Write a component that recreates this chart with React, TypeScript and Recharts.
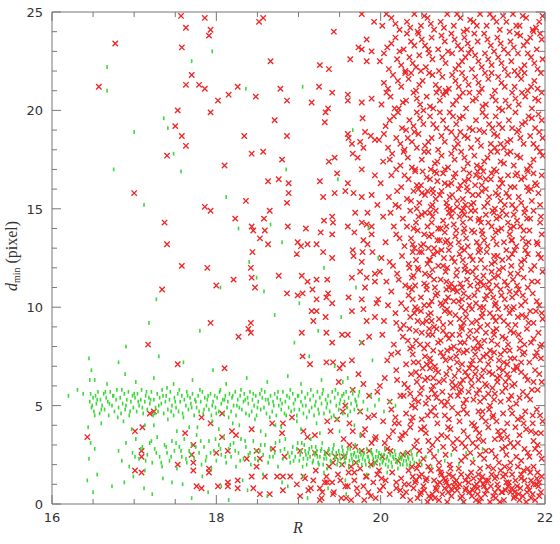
import { Label, Scatter, ScatterChart, XAxis, YAxis } from "recharts";

// values stored as [R*100, dmin*10] pairs
const redSparse = [
  1643, 34, 1657, 212, 1677, 234, 1700, 158, 1757, 248, 1763, 242, 1758, 232, 1770, 218, 1763, 213, 1779, 213,
  1753, 200, 1750, 192, 1758, 187, 1763, 182, 1740, 177, 1786, 247, 1793, 241, 1791, 238, 1852, 245, 1857, 247,
  1866, 225, 1977, 249, 1992, 245, 1943, 240, 1983, 236, 1973, 232, 1977, 231, 1989, 230, 1983, 225, 1963, 226,
  1926, 223, 1937, 221, 1786, 211, 1826, 212, 1815, 208, 1802, 205, 1793, 199, 1848, 207, 1878, 211, 1886, 205,
  1925, 212, 1941, 209, 1916, 204, 1936, 201, 1933, 199, 1960, 208, 1960, 205, 1977, 204, 1989, 206, 1978, 196,
  1932, 194, 1871, 195, 1834, 187, 1886, 187, 1843, 178, 1857, 179, 1880, 175, 1810, 172, 1863, 164, 1876, 165,
  1888, 163, 1926, 164, 1960, 163, 1947, 168, 1937, 174, 1944, 176, 1966, 178, 1972, 176, 1977, 170, 1993, 167,
  1960, 188, 1961, 186, 1965, 183, 1975, 184, 1981, 189, 1988, 187, 1993, 185, 1979, 181,
  1786, 151, 1793, 149, 1836, 154, 1823, 145, 1843, 141, 1845, 139, 1858, 145, 1865, 149, 1859, 139, 1853, 135,
  1863, 132, 1844, 128, 1886, 153, 1888, 158, 1887, 141, 1842, 120, 1843, 115, 1821, 114, 1847, 110, 1876, 116,
  1886, 107, 1793, 92, 1842, 92, 1839, 89, 1842, 87, 1827, 85, 1810, 69, 1904, 87, 1909, 140, 1899, 133,
  1903, 131, 1911, 132, 1922, 132, 1930, 128, 1931, 144, 1927, 138, 1941, 146, 1942, 143, 1941, 137, 1941, 125,
  1898, 127, 1904, 116, 1911, 113, 1922, 114, 1935, 114, 1917, 109, 1899, 106, 1905, 107, 1922, 104, 1934, 105,
  1936, 107, 1941, 102, 1916, 98, 1922, 98, 1918, 93, 1933, 95, 1934, 87, 1941, 82, 1905, 75, 1914, 71,
  1934, 72, 1942, 72, 1950, 69, 1954, 71, 1965, 73, 1953, 86, 1960, 86, 1977, 82, 1986, 85, 1965, 98,
  1979, 99, 1993, 95, 1983, 93, 1961, 105, 1977, 104, 1995, 102, 1960, 141, 1968, 138, 1966, 129, 1967, 126,
  1978, 128, 1977, 123, 1975, 118, 1965, 115, 1983, 115, 1981, 110, 1993, 113, 1944, 158, 1957, 159, 1967, 158,
  1977, 156, 1989, 157, 1930, 156, 1969, 148, 1984, 148, 1977, 143, 1983, 142, 1989, 141, 1989, 137, 1979, 134,
  1984, 132, 1990, 128, 1993, 117, 1737, 143, 1740, 132, 1758, 121, 1734, 109, 1789, 120, 1800, 111, 1717, 81,
  1753, 71, 1701, 37, 1710, 39, 1762, 36, 1719, 46, 1724, 47, 1782, 44, 1793, 41, 1772, 30, 1709, 27,
  1709, 24, 1770, 25, 1800, 26, 1807, 34, 1753, 20, 1772, 21, 1701, 17, 1709, 16, 1772, 17, 1791, 18,
  1791, 16, 1776, 9, 1782, 8, 1802, 9, 1814, 11, 1814, 27, 1807, 46, 1868, 41, 1881, 41, 1892, 44,
  1935, 42, 1954, 47, 1819, 37, 1824, 35, 1843, 38, 1880, 36, 1906, 37, 1911, 34, 1920, 35, 1966, 37,
  1849, 27, 1837, 23, 1853, 23, 1869, 28, 1883, 24, 1902, 27, 1920, 26, 1934, 26, 1942, 21, 1849, 19,
  1826, 12, 1843, 14, 1859, 14, 1874, 14, 1881, 14, 1890, 14, 1906, 14, 1918, 12, 1935, 11, 1941, 11,
  1814, 9, 1826, 8, 1845, 8, 1853, 5, 1865, 5, 1881, 7, 1898, 10, 1912, 7, 1929, 6, 1928, 3,
  1942, 5, 1951, 12, 1958, 3, 1964, 19, 1971, 8, 1977, 27, 1983, 14, 1988, 4, 1945, 24, 1955, 33,
  1962, 41, 1969, 29, 1975, 47, 1981, 38, 1986, 55, 1949, 62, 1957, 50, 1966, 58, 1973, 66, 1979, 61,
  1985, 44, 1939, 37, 1947, 43, 1960, 9, 1968, 16, 1980, 2, 1989, 31, 1953, 20, 1934, 14, 1926, 8,
  1902, 4, 1908, 13, 1915, 8, 1921, 17, 1926, 2, 1932, 11, 1937, 19, 1943, 6, 1948, 15, 1952, 3,
  1957, 9, 1961, 16, 1964, 2, 1968, 12, 1972, 5, 1975, 18, 1979, 9, 1982, 14, 1985, 6, 1988, 20,
  1991, 11, 1994, 3, 1996, 15, 1999, 7, 1955, 24, 1970, 21, 1986, 27, 1993, 33, 1978, 35, 1962, 30,
];

const redDense = [
  2031, 6, 2045, 3, 2052, 9, 2063, 5, 2071, 2, 2078, 8, 2086, 4, 2093, 7, 2101, 1, 2108, 6, 2114, 9, 2122, 3,
  2129, 7, 2137, 4, 2143, 8, 2150, 2, 2158, 6, 2166, 9, 2173, 4, 2181, 7, 2188, 2, 2195, 6, 2040, 8, 2057, 1,
  2068, 7, 2083, 9, 2097, 3, 2111, 4, 2126, 9, 2133, 1, 2147, 6, 2155, 9, 2162, 3, 2170, 8, 2177, 1, 2185, 5,
  2192, 9, 2027, 4, 2019, 8, 2049, 6, 2075, 5, 2089, 9, 2104, 8, 2118, 5, 2140, 3, 2152, 7, 2168, 5, 2183, 3,
  2066, 3, 2094, 9, 2120, 1, 2145, 1, 2163, 6, 2179, 9, 2011, 5, 2003, 9, 2036, 2, 2059, 4, 2081, 1, 2116, 2,
  2025, 13, 2034, 17, 2042, 11, 2050, 15, 2058, 19, 2065, 12, 2073, 16, 2080, 11, 2088, 14, 2095, 18, 2103, 12,
  2110, 16, 2117, 10, 2124, 14, 2131, 19, 2139, 13, 2146, 17, 2153, 11, 2160, 15, 2167, 19, 2175, 12, 2182, 16,
  2189, 10, 2196, 14, 2014, 16, 2006, 12, 2038, 19, 2047, 14, 2061, 17, 2069, 10, 2077, 13, 2085, 18, 2098, 15,
  2107, 11, 2121, 18, 2128, 12, 2135, 15, 2149, 14, 2157, 18, 2171, 15, 2186, 19, 2193, 11, 2029, 10, 2055, 12,
  2083, 15, 2113, 13, 2142, 10, 2164, 12, 2179, 18, 1998, 17, 2019, 11, 2044, 18, 2071, 18, 2092, 12, 2119, 15,
  2137, 18, 2151, 19, 2174, 17, 2191, 16, 2001, 13,
  2002, 24, 2012, 27, 2021, 22, 2033, 26, 2041, 29, 2052, 23, 2060, 27, 2071, 21, 2079, 25, 2090, 28, 2098, 22,
  2109, 26, 2117, 29, 2126, 23, 2135, 27, 2144, 21, 2153, 25, 2162, 29, 2171, 22, 2179, 26, 2188, 28, 2196, 23,
  2046, 20, 2065, 24, 2084, 20, 2103, 29, 2121, 25, 2140, 24, 2158, 21, 2175, 28, 2193, 26, 1993, 21, 2027, 25,
  2112, 21, 2148, 28,
  1994, 34, 2005, 31, 2015, 37, 2024, 33, 2036, 39, 2044, 32, 2055, 36, 2063, 30, 2074, 35, 2082, 39, 2093, 33,
  2101, 37, 2112, 31, 2120, 36, 2131, 39, 2139, 33, 2150, 37, 2158, 31, 2169, 35, 2177, 38, 2186, 32, 2195, 36,
  2010, 34, 2049, 38, 2088, 31, 2106, 34, 2125, 32, 2145, 35, 2164, 39, 2183, 37, 2030, 36, 2069, 33, 2116, 38,
  2154, 34, 2191, 30,
  1992, 45, 2003, 42, 2013, 48, 2022, 41, 2031, 46, 2042, 49, 2050, 43, 2061, 47, 2069, 41, 2078, 45, 2087, 49,
  2096, 42, 2105, 46, 2114, 40, 2123, 44, 2132, 48, 2141, 42, 2149, 46, 2158, 49, 2167, 43, 2176, 47, 2185, 41,
  2194, 45, 2018, 44, 2037, 42, 2057, 45, 2083, 43, 2101, 48, 2119, 47, 2137, 45, 2154, 41, 2172, 44, 2190, 48,
  2065, 49, 2128, 42,
  1996, 57, 2011, 52, 2024, 55, 2033, 59, 2041, 53, 2048, 56, 2055, 51, 2062, 58, 2068, 54, 2075, 57, 2081, 52,
  2088, 59, 2094, 55, 2101, 51, 2107, 57, 2113, 53, 2120, 58, 2126, 54, 2133, 50, 2139, 56, 2146, 52, 2152, 59,
  2159, 55, 2165, 51, 2173, 57, 2182, 53, 2191, 58, 2038, 50, 2058, 54, 2078, 50, 2098, 58, 2117, 56, 2136, 59,
  2156, 53, 2178, 55,
  2005, 64, 2019, 68, 2029, 61, 2037, 66, 2044, 62, 2051, 69, 2057, 64, 2064, 60, 2070, 67, 2077, 63, 2084, 69,
  2090, 65, 2097, 61, 2103, 67, 2110, 63, 2116, 69, 2123, 65, 2129, 60, 2136, 66, 2142, 62, 2149, 68, 2156, 64,
  2163, 61, 2171, 67, 2179, 63, 2188, 68, 2196, 62, 2047, 65, 2067, 68, 2087, 62, 2106, 65, 2125, 68, 2145, 65,
  2166, 69, 1999, 60,
  2008, 73, 2021, 77, 2031, 71, 2039, 76, 2046, 72, 2053, 79, 2060, 74, 2066, 70, 2073, 77, 2079, 73, 2086, 79,
  2092, 75, 2099, 71, 2105, 78, 2112, 73, 2118, 79, 2125, 75, 2131, 71, 2138, 77, 2144, 73, 2151, 78, 2158, 74,
  2165, 70, 2173, 76, 2181, 72, 2190, 77, 2036, 79, 2056, 71, 2076, 75, 2095, 78, 2115, 76, 2134, 74, 2154, 71,
  2169, 79, 2195, 74,
  2002, 86, 2016, 81, 2027, 85, 2035, 89, 2043, 83, 2050, 87, 2057, 81, 2063, 86, 2070, 82, 2076, 88, 2083, 84,
  2089, 80, 2096, 86, 2102, 82, 2109, 88, 2115, 84, 2122, 80, 2128, 87, 2135, 83, 2141, 89, 2148, 85, 2155, 81,
  2162, 87, 2170, 83, 2178, 89, 2186, 84, 2194, 80, 2039, 80, 2059, 89, 2080, 86, 2099, 89, 2119, 82, 2138, 86,
  2158, 88, 2175, 81,
  2004, 93, 2018, 97, 2028, 91, 2036, 95, 2044, 99, 2051, 92, 2058, 96, 2065, 90, 2071, 94, 2078, 98, 2085, 92,
  2091, 96, 2098, 90, 2104, 95, 2111, 99, 2117, 93, 2124, 97, 2130, 91, 2137, 95, 2143, 99, 2150, 93, 2157, 97,
  2164, 91, 2172, 96, 2180, 92, 2189, 98, 2197, 94, 2041, 97, 2062, 93, 2081, 99, 2101, 92, 2121, 90, 2140, 93,
  2160, 99, 2177, 95,
  1997, 104, 2013, 108, 2025, 102, 2034, 106, 2042, 100, 2049, 105, 2056, 109, 2062, 103, 2069, 107, 2075, 101,
  2082, 105, 2088, 109, 2095, 103, 2101, 107, 2108, 101, 2114, 106, 2121, 100, 2127, 104, 2134, 108, 2140, 102,
  2147, 106, 2153, 100, 2160, 105, 2168, 109, 2176, 103, 2185, 107, 2193, 101, 2038, 109, 2059, 101, 2079, 103,
  2098, 100, 2118, 109, 2137, 105, 2157, 108, 2171, 101,
  2007, 113, 2020, 117, 2030, 111, 2038, 115, 2046, 119, 2053, 112, 2060, 116, 2066, 110, 2073, 114, 2079, 118,
  2086, 112, 2092, 116, 2099, 110, 2105, 114, 2112, 118, 2118, 112, 2125, 116, 2131, 110, 2138, 115, 2144, 119,
  2151, 113, 2158, 117, 2166, 111, 2174, 115, 2183, 119, 2191, 113, 2042, 111, 2063, 119, 2083, 110, 2102, 119,
  2122, 113, 2141, 111, 2161, 114, 2179, 110, 1999, 118,
  2001, 125, 2015, 121, 2026, 126, 2035, 120, 2043, 124, 2050, 128, 2057, 122, 2064, 127, 2070, 121, 2077, 125,
  2083, 129, 2090, 123, 2096, 127, 2103, 121, 2109, 126, 2116, 120, 2122, 124, 2129, 128, 2135, 122, 2142, 126,
  2149, 120, 2156, 125, 2163, 129, 2171, 123, 2179, 127, 2187, 121, 2195, 125, 2039, 128, 2060, 124, 2081, 120,
  2100, 124, 2119, 128, 2139, 123, 2159, 121, 2176, 129,
  2006, 133, 2019, 137, 2029, 131, 2037, 135, 2045, 139, 2052, 132, 2059, 136, 2065, 130, 2072, 134, 2078, 138,
  2085, 132, 2091, 136, 2098, 130, 2104, 135, 2111, 139, 2117, 133, 2124, 137, 2130, 131, 2137, 135, 2143, 139,
  2150, 133, 2157, 137, 2165, 131, 2173, 135, 2181, 139, 2190, 133, 2041, 130, 2062, 137, 2081, 134, 2101, 138,
  2120, 131, 2140, 138, 2160, 134, 2177, 132, 2196, 137,
  2003, 146, 2016, 141, 2027, 145, 2036, 149, 2043, 143, 2050, 147, 2057, 141, 2063, 146, 2070, 140, 2076, 144,
  2083, 148, 2089, 142, 2096, 146, 2102, 140, 2109, 145, 2115, 149, 2122, 143, 2128, 147, 2135, 141, 2141, 145,
  2148, 149, 2155, 143, 2162, 147, 2170, 141, 2178, 145, 2186, 149, 2194, 143, 2040, 140, 2060, 148, 2080, 141,
  2099, 149, 2119, 144, 2138, 148, 2158, 140, 2175, 148,
  1996, 152, 2010, 156, 2022, 151, 2032, 155, 2040, 159, 2047, 153, 2054, 157, 2061, 151, 2067, 155, 2074, 159,
  2080, 153, 2087, 157, 2093, 151, 2100, 155, 2106, 159, 2113, 153, 2119, 157, 2126, 151, 2132, 156, 2139, 150,
  2146, 154, 2153, 158, 2160, 152, 2168, 156, 2176, 150, 2184, 154, 2192, 158, 2044, 150, 2064, 158, 2084, 150,
  2103, 152, 2123, 159, 2143, 157, 2164, 150, 2180, 159,
  2000, 163, 2013, 167, 2025, 161, 2034, 165, 2042, 169, 2049, 162, 2056, 166, 2063, 160, 2069, 164, 2076, 168,
  2082, 162, 2089, 166, 2095, 160, 2102, 164, 2108, 168, 2115, 162, 2121, 166, 2128, 160, 2134, 165, 2141, 169,
  2148, 163, 2155, 167, 2163, 161, 2171, 165, 2179, 169, 2188, 163, 2196, 167, 2046, 160, 2066, 169, 2086, 163,
  2105, 161, 2125, 169, 2144, 161, 2166, 168, 2183, 160,
  2003, 174, 2014, 178, 2024, 172, 2033, 176, 2042, 170, 2050, 175, 2058, 179, 2066, 173, 2074, 177, 2082, 171,
  2090, 175, 2098, 179, 2106, 173, 2114, 177, 2122, 171, 2130, 176, 2138, 170, 2146, 174, 2154, 178, 2162, 172,
  2170, 176, 2178, 170, 2186, 175, 2194, 179, 2028, 179, 2061, 170, 2101, 170, 2142, 179,
  1998, 185, 2009, 181, 2019, 186, 2029, 180, 2038, 184, 2046, 188, 2054, 182, 2062, 186, 2070, 180, 2078, 184,
  2086, 189, 2094, 183, 2102, 187, 2110, 181, 2118, 185, 2126, 189, 2134, 183, 2142, 187, 2150, 181, 2158, 185,
  2166, 189, 2174, 183, 2182, 187, 2190, 181, 2197, 186, 2044, 181, 2092, 186, 2139, 181,
  2006, 192, 2016, 197, 2026, 191, 2035, 195, 2044, 199, 2052, 193, 2060, 197, 2068, 191, 2076, 195, 2084, 199,
  2092, 193, 2100, 197, 2108, 191, 2116, 195, 2124, 199, 2132, 193, 2140, 197, 2148, 191, 2156, 195, 2164, 199,
  2172, 193, 2180, 197, 2188, 191, 2196, 195, 2021, 199, 2072, 199, 2120, 190, 2168, 190,
  2001, 203, 2012, 207, 2022, 201, 2031, 205, 2040, 209, 2048, 203, 2056, 207, 2064, 201, 2072, 205, 2080, 209,
  2088, 203, 2096, 207, 2104, 201, 2112, 205, 2120, 209, 2128, 203, 2136, 207, 2144, 201, 2152, 205, 2160, 209,
  2168, 203, 2176, 207, 2184, 201, 2192, 205, 2052, 200, 2100, 209, 2148, 200, 2196, 209,
  2004, 214, 2015, 218, 2025, 212, 2034, 216, 2043, 210, 2051, 215, 2059, 219, 2067, 213, 2075, 217, 2083, 211,
  2091, 215, 2099, 219, 2107, 213, 2115, 217, 2123, 211, 2131, 216, 2139, 210, 2147, 214, 2155, 218, 2163, 212,
  2171, 216, 2179, 210, 2187, 215, 2195, 219, 2037, 219, 2079, 210, 2127, 219, 2175, 219,
  1999, 225, 2010, 221, 2020, 226, 2030, 220, 2039, 224, 2047, 228, 2055, 222, 2063, 226, 2071, 220, 2079, 224,
  2087, 229, 2095, 223, 2103, 227, 2111, 221, 2119, 225, 2127, 229, 2135, 223, 2143, 227, 2151, 221, 2159, 225,
  2167, 229, 2175, 223, 2183, 227, 2191, 221, 2197, 226, 2049, 220, 2107, 229, 2163, 220,
  2008, 232, 2018, 237, 2028, 231, 2037, 235, 2046, 239, 2054, 233, 2062, 237, 2070, 231, 2078, 235, 2086, 239,
  2094, 233, 2102, 237, 2110, 231, 2118, 235, 2126, 239, 2134, 233, 2142, 237, 2150, 231, 2158, 235, 2166, 239,
  2174, 233, 2182, 237, 2190, 231, 2196, 236, 2023, 230, 2082, 230, 2138, 230, 2186, 240,
  2002, 243, 2013, 247, 2023, 241, 2032, 245, 2041, 249, 2049, 243, 2057, 247, 2065, 241, 2073, 245, 2081, 249,
  2089, 243, 2097, 247, 2105, 241, 2113, 245, 2121, 249, 2129, 243, 2137, 247, 2145, 241, 2153, 245, 2161, 249,
  2169, 243, 2177, 247, 2185, 241, 2193, 245, 2045, 240, 2101, 240, 2157, 240,
];

const redDenseExtra = [
  2034, 10, 2048, 5, 2056, 13, 2067, 8, 2074, 15, 2082, 6, 2090, 11, 2099, 4, 2106, 14, 2112, 7, 2121, 12,
  2127, 5, 2134, 9, 2141, 14, 2148, 6, 2156, 11, 2163, 4, 2171, 13, 2178, 6, 2186, 10, 2193, 4, 2039, 14,
  2061, 3, 2079, 12, 2096, 10, 2118, 8, 2139, 6, 2152, 15, 2169, 2, 2190, 13, 2024, 7, 2043, 12, 2072, 11,
  2103, 7, 2131, 12, 2160, 8, 2183, 12, 2053, 7, 2087, 7, 2125, 10,
  2008, 28, 2026, 35, 2039, 44, 2047, 27, 2058, 32, 2067, 45, 2076, 29, 2085, 38, 2094, 46, 2103, 24, 2111, 41,
  2119, 33, 2128, 27, 2136, 44, 2143, 37, 2152, 29, 2160, 46, 2167, 31, 2174, 41, 2181, 24, 2189, 36, 2197, 42,
  2017, 41, 2053, 39, 2081, 34, 2099, 31, 2124, 47, 2147, 33, 2165, 24, 2185, 45,
  2036, 56, 2043, 67, 2050, 59, 2054, 63, 2060, 69, 2066, 56, 2071, 62, 2080, 66, 2085, 55, 2091, 60, 2095, 68,
  2100, 63, 2104, 53, 2111, 60, 2115, 66, 2121, 52, 2127, 61, 2132, 67, 2138, 53, 2142, 64, 2148, 57, 2154, 66,
  2160, 60, 2169, 54, 2176, 65, 2184, 58, 2193, 66, 2046, 52, 2074, 52, 2108, 69, 2131, 56, 2152, 62, 2020, 63,
  2064, 64, 2096, 57, 2119, 63, 2144, 69, 2162, 68, 2186, 62, 2028, 55,
  2033, 83, 2040, 72, 2048, 81, 2054, 75, 2058, 86, 2064, 78, 2068, 89, 2073, 83, 2081, 78, 2087, 86, 2093, 72,
  2097, 82, 2101, 77, 2107, 85, 2113, 79, 2117, 88, 2121, 73, 2126, 83, 2133, 78, 2137, 88, 2142, 81, 2146, 76,
  2152, 84, 2157, 78, 2163, 74, 2168, 86, 2175, 77, 2183, 82, 2192, 87, 2024, 89, 2043, 88, 2061, 72, 2085, 74,
  2110, 71, 2129, 76, 2150, 72, 2171, 72, 2188, 75, 2013, 76, 2196, 81,
  2031, 99, 2039, 104, 2045, 93, 2053, 101, 2061, 97, 2067, 106, 2073, 102, 2076, 91, 2084, 97, 2089, 103,
  2093, 108, 2096, 94, 2103, 98, 2107, 105, 2111, 92, 2116, 102, 2123, 95, 2129, 106, 2133, 97, 2139, 101,
  2145, 95, 2151, 104, 2155, 91, 2162, 100, 2167, 95, 2173, 106, 2182, 98, 2190, 103, 2196, 97, 2019, 92,
  2035, 110, 2056, 93, 2080, 109, 2099, 104, 2125, 100, 2146, 109, 2165, 107, 2009, 101, 2049, 98, 2186, 92,
  2034, 122, 2040, 116, 2047, 128, 2054, 117, 2059, 124, 2065, 114, 2069, 128, 2076, 121, 2080, 113, 2087, 125,
  2093, 119, 2097, 112, 2102, 129, 2106, 118, 2112, 124, 2116, 115, 2121, 129, 2127, 120, 2132, 113, 2138, 126,
  2143, 116, 2148, 124, 2154, 111, 2160, 127, 2167, 117, 2175, 124, 2184, 113, 2192, 127, 2022, 114, 2056, 111,
  2074, 129, 2090, 110, 2109, 111, 2135, 118, 2153, 129, 2171, 120, 2011, 123, 2045, 120, 2197, 118, 2125, 111,
  2032, 141, 2039, 132, 2046, 146, 2053, 137, 2058, 130, 2062, 143, 2067, 149, 2073, 140, 2079, 133, 2086, 146,
  2092, 139, 2095, 133, 2100, 143, 2106, 131, 2110, 149, 2114, 138, 2120, 145, 2126, 134, 2131, 143, 2136, 149,
  2141, 132, 2147, 140, 2153, 147, 2159, 134, 2166, 144, 2174, 139, 2182, 145, 2191, 132, 2023, 135, 2049, 131,
  2069, 134, 2088, 149, 2102, 147, 2123, 139, 2145, 146, 2162, 141, 2180, 133, 2012, 148, 2054, 148, 2195, 146,
  2029, 167, 2037, 154, 2044, 162, 2051, 169, 2057, 159, 2063, 152, 2068, 168, 2072, 157, 2078, 163, 2084, 156,
  2091, 168, 2097, 162, 2101, 150, 2107, 165, 2112, 157, 2118, 169, 2123, 162, 2130, 153, 2135, 168, 2140, 158,
  2146, 165, 2151, 152, 2158, 161, 2164, 167, 2171, 153, 2178, 161, 2186, 168, 2194, 152, 2018, 152, 2060, 165,
  2081, 151, 2110, 152, 2128, 165, 2156, 156, 2175, 166, 2190, 162, 2050, 158, 2093, 154, 2116, 167, 2020, 159,
  2011, 175, 2038, 171, 2053, 179, 2069, 174, 2086, 178, 2102, 176, 2117, 172, 2134, 179, 2150, 173, 2166, 177,
  2182, 172, 2197, 177, 2019, 170, 2078, 170, 2126, 174, 2158, 179,
  2004, 188, 2024, 183, 2041, 189, 2058, 184, 2074, 187, 2090, 181, 2106, 186, 2122, 182, 2138, 188, 2154, 184,
  2170, 186, 2186, 183, 2033, 186, 2097, 189, 2146, 183, 2193, 189,
  2011, 195, 2031, 190, 2048, 196, 2064, 193, 2080, 191, 2096, 196, 2112, 190, 2128, 197, 2144, 193, 2160, 191,
  2176, 194, 2192, 198, 2040, 192, 2088, 197, 2136, 191, 2184, 196,
  2007, 209, 2027, 204, 2044, 206, 2060, 202, 2076, 208, 2092, 205, 2108, 209, 2124, 202, 2140, 205, 2156, 202,
  2172, 209, 2188, 206, 2017, 201, 2068, 209, 2116, 206, 2164, 206,
  2009, 211, 2030, 219, 2047, 213, 2063, 218, 2071, 211, 2087, 218, 2103, 216, 2119, 214, 2135, 219, 2151, 212,
  2167, 218, 2183, 212, 2021, 215, 2095, 212, 2143, 217, 2191, 211,
  2004, 229, 2025, 223, 2043, 222, 2059, 229, 2075, 227, 2091, 221, 2099, 225, 2115, 228, 2131, 226, 2147, 224,
  2155, 229, 2171, 221, 2187, 224, 2035, 227, 2123, 222, 2179, 229,
  2013, 234, 2032, 239, 2041, 233, 2058, 231, 2074, 238, 2090, 236, 2106, 234, 2114, 239, 2130, 236, 2146, 234,
  2162, 232, 2178, 235, 2194, 239, 2050, 236, 2098, 231, 2170, 238,
  2007, 249, 2018, 244, 2036, 242, 2053, 248, 2061, 244, 2077, 242, 2093, 249, 2109, 246, 2117, 243, 2133, 249,
  2141, 245, 2149, 248, 2165, 243, 2173, 248, 2189, 242, 2197, 248,
];

const greenUpper = [
  1646, 52, 1647, 56, 1648, 49, 1650, 54, 1651, 47, 1653, 55, 1654, 51, 1656, 57, 1658, 46, 1659, 53, 1661, 50,
  1663, 56, 1664, 48, 1666, 54, 1668, 52, 1669, 45, 1671, 57, 1673, 50, 1674, 55, 1676, 47, 1678, 53, 1679, 58,
  1681, 49, 1683, 54, 1684, 46, 1686, 51, 1688, 56, 1689, 48, 1691, 53, 1693, 57, 1694, 45, 1696, 52, 1698, 55,
  1699, 49, 1701, 54, 1703, 47, 1704, 56, 1706, 50, 1708, 53, 1709, 58, 1711, 46, 1713, 52, 1714, 55, 1716, 48,
  1718, 54, 1719, 51, 1721, 57, 1723, 45, 1724, 53, 1726, 49, 1728, 56, 1729, 47, 1731, 54, 1733, 51, 1734, 58,
  1736, 46, 1738, 52, 1739, 55, 1741, 48, 1743, 53, 1744, 57, 1746, 50, 1748, 45, 1749, 54, 1751, 49, 1753, 56,
  1754, 47, 1756, 52, 1758, 55, 1759, 46, 1761, 53, 1763, 50, 1764, 57, 1766, 48, 1768, 54, 1769, 51, 1771, 56,
  1773, 45, 1774, 53, 1776, 49, 1778, 55, 1779, 47, 1781, 52, 1783, 57, 1784, 46, 1786, 54, 1788, 50, 1789, 53,
  1791, 48, 1793, 56, 1794, 45, 1796, 52, 1798, 55, 1799, 49, 1801, 54, 1803, 47, 1804, 57, 1806, 51, 1808, 53,
  1809, 46, 1811, 55, 1813, 49, 1814, 52, 1816, 56, 1818, 47, 1819, 54, 1821, 50, 1823, 57, 1824, 45, 1826, 53,
  1828, 49, 1829, 55, 1831, 48, 1833, 52, 1834, 56, 1836, 46, 1838, 54, 1839, 51, 1841, 57, 1843, 47, 1844, 53,
  1846, 50, 1848, 55, 1849, 45, 1851, 52, 1853, 56, 1854, 48, 1856, 54, 1858, 49, 1859, 57, 1861, 46, 1863, 53,
  1864, 51, 1866, 55, 1868, 47, 1869, 52, 1871, 56, 1873, 45, 1874, 54, 1876, 50, 1878, 53, 1879, 48, 1881, 57,
  1883, 46, 1884, 52, 1886, 55, 1888, 49, 1889, 54, 1891, 47, 1893, 56, 1894, 51, 1896, 53, 1898, 45, 1899, 55,
  1901, 48, 1903, 52, 1904, 57, 1906, 46, 1908, 54, 1909, 50, 1911, 56, 1913, 47, 1914, 53, 1916, 49, 1918, 55,
  1919, 45, 1921, 52, 1923, 57, 1924, 48, 1926, 54, 1928, 51, 1929, 56, 1931, 46, 1933, 53, 1934, 49, 1936, 55,
  1938, 47, 1939, 52, 1941, 57, 1943, 45, 1944, 54, 1946, 50, 1948, 56, 1949, 48, 1951, 53, 1953, 55, 1954, 46,
  1956, 52, 1958, 57, 1959, 49, 1961, 54, 1963, 47, 1964, 51, 1966, 56, 1968, 48, 1969, 53, 1971, 50, 1973, 55,
  1975, 47,
  1649, 50, 1652, 45, 1655, 53, 1660, 48, 1665, 57, 1670, 51, 1675, 55, 1680, 44, 1685, 58, 1690, 50, 1695, 47,
  1700, 56, 1705, 52, 1710, 49, 1715, 57, 1720, 53, 1725, 46, 1730, 50, 1735, 55, 1740, 59, 1745, 47, 1750, 52,
  1755, 58, 1760, 44, 1765, 55, 1770, 49, 1775, 52, 1780, 58, 1785, 48, 1790, 55, 1795, 50, 1800, 46, 1805, 58,
  1810, 53, 1815, 44, 1820, 55, 1825, 50, 1830, 58, 1835, 53, 1840, 45, 1845, 56, 1850, 49, 1855, 58, 1860, 53,
  1865, 44, 1870, 50, 1875, 57, 1880, 51, 1885, 45, 1890, 58, 1895, 48, 1900, 55, 1905, 50, 1910, 44, 1915, 58,
  1920, 50, 1925, 46, 1930, 58, 1935, 51, 1940, 44, 1945, 58, 1950, 51, 1955, 56, 1960, 45, 1965, 58, 1970, 52,
  1974, 57,
  1652, 63, 1667, 61, 1689, 66, 1702, 62, 1724, 64, 1748, 61, 1771, 63, 1796, 68, 1812, 61, 1837, 64, 1862, 62,
  1887, 65, 1903, 61, 1928, 63, 1954, 62, 1660, 41, 1687, 42, 1713, 40, 1741, 43, 1767, 39, 1795, 42, 1820, 41,
  1847, 43, 1872, 40, 1898, 42, 1922, 41, 1947, 43, 1968, 40, 1979, 52, 1984, 48, 1988, 55, 1993, 50, 1998, 53,
  2004, 47, 2011, 52, 2018, 50,
];

const greenLower = [
  1681, 27, 1685, 22, 1690, 31, 1694, 19, 1698, 26, 1702, 33, 1706, 23, 1710, 29, 1713, 17, 1716, 25, 1719, 31,
  1722, 21, 1725, 28, 1728, 34, 1731, 24, 1734, 19, 1737, 30, 1740, 26, 1743, 22, 1746, 32, 1749, 27, 1752, 18,
  1755, 29, 1758, 24, 1761, 33, 1764, 21, 1767, 27, 1770, 30, 1773, 23, 1776, 35, 1779, 26, 1782, 20, 1785, 29,
  1788, 24, 1791, 32, 1794, 18, 1797, 27, 1800, 22, 1803, 30, 1806, 25, 1809, 34, 1812, 21, 1815, 28, 1818, 24,
  1821, 31, 1824, 19, 1827, 26, 1830, 33, 1833, 23, 1836, 29, 1839, 25, 1842, 20, 1845, 32, 1848, 27, 1851, 22,
  1854, 30, 1857, 25, 1860, 35, 1863, 21, 1866, 28, 1869, 24, 1872, 31, 1875, 19, 1878, 27, 1881, 23, 1884, 33,
  1887, 26, 1890, 21, 1893, 29, 1896, 24, 1899, 31, 1901, 22, 1903, 27, 1905, 19, 1907, 30, 1909, 25, 1911, 23,
  1913, 28, 1915, 33, 1917, 21, 1919, 26, 1921, 29, 1923, 24, 1925, 20, 1927, 27, 1929, 31, 1931, 23, 1933, 25,
  1935, 18, 1937, 28, 1939, 22, 1941, 26, 1943, 30, 1945, 24, 1947, 20, 1949, 27, 1951, 23, 1953, 29, 1955, 25,
  1957, 21, 1959, 26, 1961, 19, 1963, 28, 1965, 23, 1967, 25, 1969, 30, 1971, 21, 1973, 24, 1975, 27, 1977, 20,
  1979, 25, 1981, 22, 1983, 28, 1985, 24, 1987, 19, 1989, 26, 1991, 23, 1993, 21, 1995, 27, 1997, 24, 1999, 20,
  2001, 25, 2003, 22, 2005, 28, 2007, 23, 2009, 19, 2011, 26, 2013, 21, 2015, 24, 2017, 27, 2019, 22, 2021, 18,
  2023, 25, 2025, 23, 2027, 20, 2029, 26, 2031, 22, 2033, 24, 2035, 19, 2037, 27, 2039, 23, 2041, 21, 2044, 25,
  2047, 22, 2050, 20,
  1892, 26, 1894, 22, 1898, 28, 1902, 25, 1904, 31, 1906, 23, 1908, 27, 1910, 20, 1912, 26, 1914, 24, 1916, 29,
  1918, 22, 1920, 25, 1922, 27, 1924, 21, 1926, 24, 1928, 28, 1930, 20, 1932, 26, 1934, 23, 1936, 27, 1938, 25,
  1940, 21, 1942, 28, 1944, 23, 1946, 26, 1948, 22, 1950, 25, 1952, 20, 1954, 27, 1956, 23, 1958, 24, 1960, 28,
  1962, 22, 1964, 25, 1966, 21, 1968, 26, 1970, 24, 1972, 27, 1974, 22, 1976, 25, 1978, 23, 1980, 26, 1982, 20,
  1984, 24, 1986, 22, 1988, 27, 1990, 25, 1992, 20, 1994, 24, 1996, 22, 1998, 26, 2000, 23, 2002, 21, 2004, 25,
  2006, 20, 2008, 24, 2010, 22, 2012, 25, 2014, 19, 2016, 23, 2018, 25, 2020, 21, 2022, 23, 2024, 20, 2026, 24,
  2028, 22, 2030, 25, 2032, 20, 2034, 23, 2036, 21, 2038, 25,
  1701, 24, 1708, 28, 1714, 22, 1721, 32, 1727, 26, 1733, 21, 1739, 29, 1745, 24, 1751, 31, 1757, 27, 1763, 23,
  1769, 25, 1775, 29, 1781, 32, 1787, 22, 1793, 26, 1799, 33, 1805, 28, 1811, 24, 1817, 30, 1823, 27, 1829, 22,
  1835, 32, 1841, 26, 1847, 23, 1853, 27, 1859, 30, 1865, 24, 1871, 26, 1877, 32, 1883, 28, 1889, 24,
  1688, 11, 1712, 8, 1735, 13, 1759, 10, 1783, 14, 1806, 9, 1832, 12, 1857, 15, 1880, 11, 1906, 14, 1931, 16,
  1957, 12, 1983, 15, 2008, 16, 1697, 38, 1724, 40, 1752, 37, 1777, 39, 1803, 38, 1828, 40, 1854, 37, 1879, 39,
  1903, 38, 1926, 36, 1950, 37, 1975, 35, 2055, 24, 2062, 19, 2070, 27, 2078, 22, 2086, 25, 2095, 20, 2104, 26,
  2113, 23, 2124, 28,
];

const greenScatter = [
  1643, 12, 1645, 23, 1647, 31, 1644, 39, 1646, 63, 1648, 68, 1645, 74, 1650, 6, 1655, 15, 1652, 28, 1631, 58,
  1638, 56, 1620, 55, 1667, 222, 1667, 210, 1700, 189, 1712, 152, 1736, 196, 1741, 191, 1748, 178, 1757, 169,
  1770, 225, 1795, 230, 1812, 156, 1827, 140, 1836, 211, 1840, 123, 1849, 115, 1858, 108, 1871, 96, 1880, 133,
  1895, 82, 1901, 102, 1913, 75, 1924, 88, 1931, 120, 1944, 70, 1952, 95, 1960, 64, 1970, 110, 1976, 82,
  1985, 140, 1990, 73, 1997, 125, 1885, 170, 1866, 142, 1805, 110, 1780, 88, 1760, 72, 1730, 75, 1718, 92,
  1690, 80, 1681, 72, 1673, 9, 1699, 14, 1722, 5, 1746, 11, 1770, 3, 1790, 6, 1815, 2, 1838, 7, 1862, 4,
  1887, 9, 1911, 3, 1936, 8, 1958, 5, 1675, 170, 1727, 104, 1948, 165, 1966, 190, 1905, 212,
];

const xTicks = [16, 16.5, 17, 17.5, 18, 18.5, 19, 19.5, 20, 20.5, 21, 21.5, 22];
const yTicks = [0, 1, 2, 3, 4, 5, 6, 7, 8, 9, 10, 11, 12, 13, 14, 15, 16, 17, 18, 19, 20, 21, 22, 23, 24, 25];

const toPoints = (a: number[]) => {
  const out: { x: number; y: number }[] = [];
  for (let i = 0; i < a.length; i += 2) out.push({ x: a[i] / 100, y: a[i + 1] / 10 });
  return out;
};

const redPoints = toPoints([...redSparse, ...redDense, ...redDenseExtra]);
const greenPoints = toPoints([...greenUpper, ...greenLower, ...greenScatter]);

const FRAME = "#777777";
const TEXT = "#333333";
const tickFont = "DejaVu Sans, sans-serif";

const Cross = (p: any) => {
  const { cx, cy } = p;
  if (cx == null || cy == null) return <g />;
  const s = 2.7;
  return (
    <path
      d={`M${cx - s},${cy - s}L${cx + s},${cy + s}M${cx - s},${cy + s}L${cx + s},${cy - s}`}
      stroke="#f02626"
      strokeWidth={1.35}
      fill="none"
    />
  );
};

const Dash = (p: any) => {
  const { cx, cy } = p;
  if (cx == null || cy == null) return <g />;
  return <rect x={cx - 0.8} y={cy - 1.9} width={1.6} height={3.8} fill="#3ad83a" />;
};

const isMajorX = (v: number) => Math.abs(v % 2) < 1e-6;
const isMajorY = (v: number) => Math.abs(v % 5) < 1e-6;

const BottomTick = ({ x, y, payload }: any) => {
  const major = isMajorX(payload.value);
  return (
    <g>
      <line x1={x} x2={x} y1={y} y2={y - (major ? 9 : 5)} stroke={FRAME} />
      {major && (
        <text x={x} y={y + 18} textAnchor="middle" fontSize={13} fontFamily={tickFont} fill={TEXT}>
          {payload.value}
        </text>
      )}
    </g>
  );
};

const TopTick = ({ x, y, payload }: any) => {
  const major = isMajorX(payload.value);
  return <line x1={x} x2={x} y1={y} y2={y + (major ? 9 : 5)} stroke={FRAME} />;
};

const LeftTick = ({ x, y, payload }: any) => {
  const major = isMajorY(payload.value);
  return (
    <g>
      <line x1={x} x2={x + (major ? 9 : 5)} y1={y} y2={y} stroke={FRAME} />
      {major && (
        <text x={x - 9} y={y + 5} textAnchor="end" fontSize={13} fontFamily={tickFont} fill={TEXT}>
          {payload.value}
        </text>
      )}
    </g>
  );
};

const RightTick = ({ x, y, payload }: any) => {
  const major = isMajorY(payload.value);
  return <line x1={x} x2={x - (major ? 9 : 5)} y1={y} y2={y} stroke={FRAME} />;
};

const YTitle = () => (
  <text
    transform="translate(17,256) rotate(-90)"
    textAnchor="middle"
    fontFamily="Liberation Serif, serif"
    fontSize={16}
    fill={TEXT}
  >
    <tspan fontStyle="italic">d</tspan>
    <tspan fontSize={10} dy={3}>
      min
    </tspan>
    <tspan dy={-3}> (pixel)</tspan>
  </text>
);

const XTitle = () => (
  <text x={298} y={533} textAnchor="middle" fontFamily="Liberation Serif, serif" fontStyle="italic" fontSize={16} fill={TEXT}>
    R
  </text>
);

export default function App() {
  return (
    <div style={{ position: "absolute", left: 0, top: 0, width: 560, height: 544, background: "#fff" }}>
      <ScatterChart width={560} height={544} margin={{ top: 11, right: 14, bottom: 39, left: 51 }}>
        <XAxis
          xAxisId="b"
          type="number"
          dataKey="x"
          domain={[16, 22]}
          allowDataOverflow
          ticks={xTicks}
          interval={0}
          height={1}
          tickSize={0}
          tickMargin={0}
          tickLine={false}
          axisLine={{ stroke: FRAME }}
          tick={BottomTick}
        >
          <Label content={XTitle} />
        </XAxis>
        <XAxis
          xAxisId="t"
          orientation="top"
          type="number"
          dataKey="x"
          domain={[16, 22]}
          allowDataOverflow
          ticks={xTicks}
          interval={0}
          height={1}
          tickSize={0}
          tickMargin={0}
          tickLine={false}
          axisLine={{ stroke: FRAME }}
          tick={TopTick}
        />
        <YAxis
          yAxisId="l"
          type="number"
          dataKey="y"
          domain={[0, 25]}
          allowDataOverflow
          ticks={yTicks}
          interval={0}
          width={1}
          tickSize={0}
          tickMargin={0}
          tickLine={false}
          axisLine={{ stroke: FRAME }}
          tick={LeftTick}
        >
          <Label content={YTitle} />
        </YAxis>
        <YAxis
          yAxisId="r"
          orientation="right"
          type="number"
          dataKey="y"
          domain={[0, 25]}
          allowDataOverflow
          ticks={yTicks}
          interval={0}
          width={1}
          tickSize={0}
          tickMargin={0}
          tickLine={false}
          axisLine={{ stroke: FRAME }}
          tick={RightTick}
        />
        <Scatter data={redPoints} xAxisId="b" yAxisId="l" shape={Cross} isAnimationActive={false} />
        <Scatter data={greenPoints} xAxisId="b" yAxisId="l" shape={Dash} isAnimationActive={false} />
      </ScatterChart>
    </div>
  );
}
